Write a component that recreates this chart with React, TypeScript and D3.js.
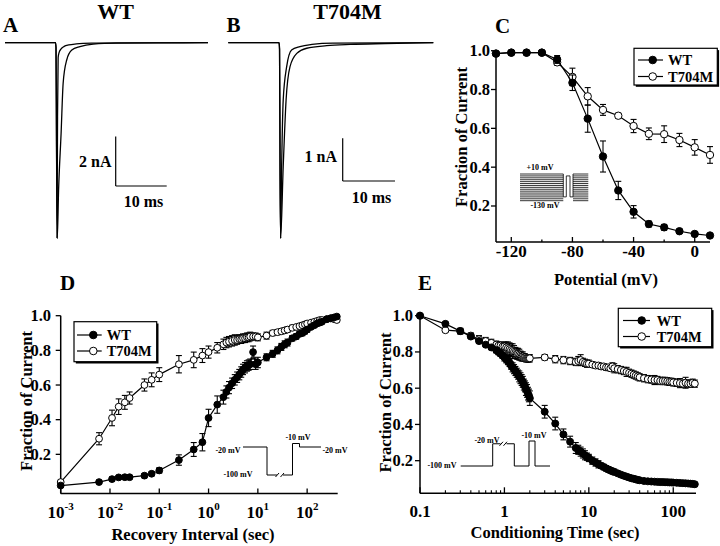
import React from "react";
import * as d3 from "d3";

const FONT = "'Liberation Serif', 'Times New Roman', serif";

// ---------- Panel A (WT traces): time (ms), current (nA)
const A_T_FAST = [0, 9.9, 10.0, 10.1, 10.2, 10.3, 10.42, 10.6, 11.0, 11.6, 12.5, 14, 17, 22, 39.8];
const A_I_FAST = [0, 0, -0.2, -4.0, -7.9, -3.0, -0.6, -0.4, -0.25, -0.15, -0.09, -0.05, -0.02, -0.01, 0];
const A_T_SLOW = [0, 9.9, 10.0, 10.1, 10.25, 10.5, 11.0, 11.4, 12.1, 13.1, 14.7, 17.3, 22, 30, 39.8];
const A_I_SLOW = [0, 0, -0.2, -4.0, -7.9, -6.0, -3.66, -1.64, -0.7, -0.3, -0.16, -0.06, -0.02, -0.01, 0];

// ---------- Panel B (T704M traces)
const B_T_FAST = [0, 9.7, 9.8, 9.9, 10.0, 10.2, 10.5, 11.16, 12.1, 13.7, 16, 20, 39.2];
const B_I_FAST = [0, 0, -0.15, -3.0, -4.58, -2.9, -1.34, -0.56, -0.17, -0.09, -0.04, -0.01, 0];
const B_T_SLOW = [0, 9.7, 9.8, 9.9, 10.0, 10.5, 11.05, 11.8, 13.1, 15, 18.8, 23.3, 30, 39.2];
const B_I_SLOW = [0, 0, -0.15, -3.0, -4.58, -2.9, -1.34, -0.56, -0.25, -0.13, -0.07, -0.04, -0.02, 0];

// ---------- Panel C (steady-state inactivation)
const C_POT = [-130, -120, -110, -100, -90, -80, -70, -60, -50, -40, -30, -20, -10, 0, 10];
const C_WT = [0.985, 0.99, 0.99, 0.99, 0.955, 0.835, 0.65, 0.455, 0.28, 0.17, 0.107, 0.09, 0.07, 0.056, 0.048];
const C_WT_ERR = [0.005, 0.005, 0.005, 0.005, 0.02, 0.04, 0.07, 0.08, 0.047, 0.032, 0.015, 0.015, 0.01, 0.01, 0.008];
const C_MUT = [0.985, 0.99, 0.99, 0.99, 0.94, 0.865, 0.765, 0.695, 0.665, 0.612, 0.572, 0.57, 0.54, 0.502, 0.463];
const C_MUT_ERR = [0.005, 0.005, 0.005, 0.005, 0.015, 0.045, 0.045, 0.028, 0.013, 0.034, 0.03, 0.043, 0.034, 0.04, 0.043];
const C_XTICKS = [-120, -80, -40, 0];
const C_XMINOR = [-100, -60, -20];
const C_PROTOCOL = [-130, -120, -110, -100, -90, -80, -70, -60, -50, -40, -30, -20, -10, 0, 10];

// ---------- Panel D (recovery from inactivation)
const D_T = [0.001, 0.006, 0.011, 0.015, 0.02, 0.025, 0.05, 0.07, 0.1, 0.25,
  0.5, 0.75, 1.0, 1.5, 2.0,
  2.3, 2.6, 3.0, 3.4, 3.8, 4.2, 4.6, 5.0, 5.5, 6.0,
  6.5, 7.0, 8.0, 9.0, 10,
  15, 20, 25, 30, 35, 40, 50, 60, 70, 80,
  90, 100, 120, 140, 160, 180, 200, 250, 300, 350,
  400];
const D_WT = [0.02, 0.04, 0.057, 0.067, 0.068, 0.068, 0.077, 0.088, 0.107, 0.167,
  0.228, 0.27, 0.41, 0.487, 0.53,
  0.56, 0.585, 0.61, 0.63, 0.645, 0.66, 0.675, 0.69, 0.7, 0.71,
  0.715, 0.72, 0.79, 0.72, 0.73,
  0.76, 0.78, 0.8, 0.82, 0.835, 0.845, 0.87, 0.88, 0.895, 0.9,
  0.91, 0.92, 0.935, 0.945, 0.955, 0.96, 0.965, 0.98, 0.985, 0.99,
  0.995];
const D_WT_ERR = [0.01, 0.01, 0.012, 0.01, 0.01, 0.01, 0.012, 0.012, 0.015, 0.03,
  0.04, 0.05, 0.05, 0.05, 0.04,
  0.035, 0.035, 0.03, 0.03, 0.03, 0.03, 0.03, 0.03, 0.03, 0.03,
  0.03, 0.03, 0.035, 0.03, 0.03,
  0.02, 0.02, 0.02, 0.02, 0.02, 0.02, 0.015, 0.015, 0.015, 0.015,
  0.015, 0.015, 0.01, 0.01, 0.01, 0.01, 0.01, 0.01, 0.01, 0.01,
  0.01];
const D_MUT = [0.04, 0.29, 0.41, 0.475, 0.5, 0.525, 0.6, 0.63, 0.66, 0.72,
  0.745, 0.77, 0.79, 0.815, 0.835,
  0.845, 0.85, 0.855, 0.86, 0.86, 0.865, 0.865, 0.87, 0.87, 0.875,
  0.875, 0.88, 0.88, 0.88, 0.875,
  0.885, 0.9, 0.905, 0.91, 0.915, 0.92, 0.93, 0.935, 0.94, 0.945,
  0.95, 0.955, 0.96, 0.965, 0.97, 0.975, 0.975, 0.98, 0.985, 0.98,
  0.975];
const D_MUT_ERR = [0.01, 0.035, 0.045, 0.045, 0.04, 0.035, 0.035, 0.04, 0.04, 0.05,
  0.045, 0.04, 0.035, 0.03, 0.03,
  0.03, 0.03, 0.03, 0.03, 0.025, 0.025, 0.025, 0.025, 0.025, 0.025,
  0.025, 0.025, 0.02, 0.02, 0.02,
  0.02, 0.015, 0.015, 0.015, 0.015, 0.015, 0.015, 0.012, 0.012, 0.012,
  0.012, 0.01, 0.01, 0.01, 0.01, 0.01, 0.01, 0.01, 0.01, 0.01,
  0.01];
const D_XTICKS = [-3, -2, -1, 0, 1, 2];

// ---------- Panel E (development of slow inactivation)
const E_T = [0.1, 0.2, 0.3, 0.4, 0.5, 0.6, 0.7, 0.8, 0.85, 0.9,
  0.95, 1.0, 1.05, 1.1, 1.15, 1.2, 1.25, 1.3, 1.35, 1.4,
  1.45, 1.5, 1.55, 1.6, 1.65, 1.7, 1.75, 1.8, 1.85, 1.9,
  1.95, 2.0, 3, 4, 5, 6, 7, 7.5, 8, 8.5,
  9, 9.5, 10, 11, 12, 13, 14, 15, 16, 17,
  18, 19, 20, 22, 24, 26, 28, 30, 32, 34,
  36, 38, 40, 45, 50, 55, 60, 65, 70, 75,
  80, 85, 90, 95, 100, 110, 120, 130, 140, 150,
  160, 170, 180];
const E_WT = [1.0, 0.955, 0.915, 0.885, 0.86, 0.84, 0.825, 0.81, 0.8, 0.79,
  0.78, 0.77, 0.76, 0.75, 0.74, 0.725, 0.715, 0.705, 0.695, 0.685,
  0.675, 0.665, 0.655, 0.645, 0.635, 0.62, 0.61, 0.595, 0.585, 0.57,
  0.56, 0.545, 0.47, 0.405, 0.345, 0.305, 0.27, 0.26, 0.25, 0.24,
  0.23, 0.222, 0.215, 0.2, 0.19, 0.18, 0.172, 0.165, 0.158, 0.152,
  0.147, 0.142, 0.138, 0.13, 0.123, 0.117, 0.112, 0.107, 0.103, 0.1,
  0.097, 0.094, 0.092, 0.088, 0.086, 0.085, 0.084, 0.083, 0.082, 0.082,
  0.081, 0.081, 0.08, 0.08, 0.079, 0.078, 0.077, 0.076, 0.075, 0.074,
  0.073, 0.072, 0.07];
const E_WT_ERR = [0, 0.01, 0.015, 0.01, 0.01, 0.01, 0.01, 0.015, 0.015, 0.015,
  0.015, 0.02, 0.02, 0.02, 0.02, 0.02, 0.025, 0.025, 0.025, 0.025,
  0.025, 0.03, 0.03, 0.03, 0.03, 0.03, 0.03, 0.035, 0.035, 0.035,
  0.035, 0.04, 0.035, 0.035, 0.03, 0.03, 0.03, 0.025, 0.025, 0.025,
  0.025, 0.02, 0.02, 0.02, 0.02, 0.02, 0.015, 0.015, 0.015, 0.015,
  0.015, 0.015, 0.015, 0.012, 0.012, 0.012, 0.012, 0.01, 0.01, 0.01,
  0.01, 0.01, 0.01, 0.01, 0.01, 0.01, 0.01, 0.01, 0.01, 0.01,
  0.01, 0.01, 0.01, 0.01, 0.01, 0.01, 0.01, 0.01, 0.01, 0.01,
  0.01, 0.01, 0.01];
const E_MUT = [1.0, 0.92, 0.915, 0.89, 0.87, 0.86, 0.85, 0.84, 0.835, 0.835,
  0.83, 0.83, 0.825, 0.82, 0.815, 0.81, 0.805, 0.8, 0.795, 0.79,
  0.79, 0.785, 0.78, 0.775, 0.775, 0.77, 0.77, 0.765, 0.765, 0.765,
  0.765, 0.765, 0.77, 0.76, 0.755, 0.75, 0.745, 0.75, 0.755, 0.745,
  0.74, 0.735, 0.735, 0.73, 0.725, 0.725, 0.72, 0.72, 0.715, 0.715,
  0.71, 0.72, 0.71, 0.705, 0.7, 0.695, 0.69, 0.685, 0.68, 0.675,
  0.67, 0.665, 0.66, 0.655, 0.65, 0.648, 0.645, 0.645, 0.64, 0.64,
  0.64, 0.638, 0.635, 0.635, 0.632, 0.63, 0.628, 0.625, 0.63, 0.625,
  0.625, 0.63, 0.625];
const E_MUT_ERR = [0, 0.01, 0.015, 0.015, 0.02, 0.02, 0.02, 0.02, 0.02, 0.02,
  0.02, 0.025, 0.03, 0.035, 0.035, 0.035, 0.04, 0.035, 0.03, 0.03,
  0.03, 0.03, 0.025, 0.025, 0.025, 0.02, 0.02, 0.02, 0.02, 0.02,
  0.02, 0.02, 0.015, 0.02, 0.02, 0.02, 0.02, 0.025, 0.03, 0.02,
  0.02, 0.02, 0.02, 0.015, 0.015, 0.015, 0.015, 0.015, 0.015, 0.015,
  0.015, 0.02, 0.025, 0.02, 0.02, 0.02, 0.025, 0.02, 0.02, 0.02,
  0.02, 0.02, 0.02, 0.02, 0.02, 0.02, 0.025, 0.02, 0.02, 0.02,
  0.02, 0.02, 0.02, 0.02, 0.02, 0.02, 0.025, 0.02, 0.03, 0.02,
  0.02, 0.02, 0.02];
const E_XMAJOR = [0.1, 1, 10, 100];
const E_XMINOR = [0.2, 0.3, 0.4, 0.5, 0.6, 0.7, 0.8, 0.9, 2, 3, 4, 5, 6, 7, 8, 9, 20, 30, 40, 50, 60, 70, 80, 90];

const Y_TICKS = [0.2, 0.4, 0.6, 0.8, 1.0];
const SERIES_NAMES = ["WT", "T704M"];

type Scale = (v: number) => number;

function Trace({ t, i, sx, sy }: { t: number[]; i: number[]; sx: Scale; sy: Scale }) {
  const line = d3
    .line<number>()
    .x((_, k) => sx(t[k]))
    .y((v) => sy(v))
    .curve(d3.curveMonotoneX);
  return <path d={line(i) || ""} fill="none" stroke="#000" strokeWidth={1.3} />;
}

function Series({ xs, ys, errs, sx, sy, filled, r = 3.6 }: {
  xs: number[]; ys: number[]; errs: number[]; sx: Scale; sy: Scale; filled: boolean; r?: number;
}) {
  const line = d3.line<number>().x((_, k) => sx(xs[k])).y((v) => sy(v));
  return (
    <g>
      <path d={line(ys) || ""} fill="none" stroke="#000" strokeWidth={1.2} />
      {ys.map((v, k) => {
        const e = errs[k];
        if (!e) return null;
        const x = sx(xs[k]);
        const y1 = sy(v - e);
        const y2 = sy(v + e);
        return (
          <g key={"e" + k} stroke="#000" strokeWidth={1.1}>
            <line x1={x} x2={x} y1={y1} y2={y2} />
            <line x1={x - 3} x2={x + 3} y1={y1} y2={y1} />
            <line x1={x - 3} x2={x + 3} y1={y2} y2={y2} />
          </g>
        );
      })}
      {ys.map((v, k) => (
        <circle key={"c" + k} cx={sx(xs[k])} cy={sy(v)} r={r}
          fill={filled ? "#000" : "#fff"} stroke="#000" strokeWidth={1} />
      ))}
    </g>
  );
}

function YAxis({ sy, x, labelX }: { sy: any; x: number; labelX: number }) {
  const [d0, d1] = sy.domain();
  return (
    <g>
      <line x1={x} x2={x} y1={sy(d0)} y2={sy(d1)} stroke="#000" strokeWidth={1.5} />
      {Y_TICKS.map((v) => (
        <g key={v}>
          <line x1={x - 5} x2={x} y1={sy(v)} y2={sy(v)} stroke="#000" strokeWidth={1.3} />
          <text x={labelX} y={sy(v) + 5.5} textAnchor="end" fontSize={16.5} fontWeight="bold" fontFamily={FONT}>
            {d3.format(".1f")(v)}
          </text>
        </g>
      ))}
    </g>
  );
}

function Legend({ x, y, w, h, rowY, lineX1, lineX2, markX, textX }: {
  x: number; y: number; w: number; h: number; rowY: number[]; lineX1: number; lineX2: number; markX: number; textX: number;
}) {
  return (
    <g>
      <rect x={x + 1.8} y={y + 1.8} width={w} height={h} fill="#000" />
      <rect x={x} y={y} width={w} height={h} fill="#fff" stroke="#000" strokeWidth={1.2} />
      {SERIES_NAMES.map((name, k) => (
        <g key={name}>
          <line x1={lineX1} x2={lineX2} y1={rowY[k]} y2={rowY[k]} stroke="#000" strokeWidth={1.2} />
          <circle cx={markX} cy={rowY[k]} r={3.8} fill={k === 0 ? "#000" : "#fff"} stroke="#000" strokeWidth={1} />
          <text x={textX} y={rowY[k] + 5} fontSize={14.5} fontWeight="bold" fontFamily={FONT}>{name}</text>
        </g>
      ))}
    </g>
  );
}

function Label({ x, y, children, size = 16.5, anchor = "start", rotate = false }: any) {
  return (
    <text x={x} y={y} fontSize={size} fontWeight="bold" fontFamily={FONT} textAnchor={anchor}
      transform={rotate ? `rotate(-90 ${x} ${y})` : undefined}>
      {children}
    </text>
  );
}

export default function App() {
  // Panel A scales
  const ax = d3.scaleLinear().domain([0, 39.8]).range([5, 208]);
  const ay = d3.scaleLinear().domain([0, -7.9]).range([42.7, 238]);
  // Panel B scales
  const bx = d3.scaleLinear().domain([0, 39.2]).range([228.3, 433.3]);
  const by = d3.scaleLinear().domain([0, -4.58]).range([42.7, 238.3]);

  // Panel C
  const cx = d3.scaleLinear().domain([-130, 10]).range([496, 710]);
  const cy = d3.scaleLinear().domain([0.0145, 1]).range([242, 50.7]);
  const cv = d3.scaleLinear().domain([-130, 10]).range([200.7, 174]);

  // Panel D
  const dx = d3.scaleLog().domain([0.001, Math.pow(10, 2.62)]).range([60.7, 337.7]);
  const dy = d3.scaleLinear().domain([-0.026, 1]).range([493.5, 315.7]);
  const dv = d3.scaleLinear().domain([-100, -10]).range([475, 443.5]);

  // Panel E
  const ex = d3.scaleLog().domain([0.1, 186]).range([420, 696]);
  const ey = d3.scaleLinear().domain([0.02, 1]).range([493.3, 315.7]);
  const ev = d3.scaleLinear().domain([-100, -10]).range([466, 441]);

  const cBottom = cy(0.0145);
  const dBottom = dy(-0.026);
  const eBottom = ey(0.02);

  // scale bars
  const aBarX = 115.7, aBarY = 186;
  const bBarX = 342.7, bBarY = 181;

  return (
    <div style={{ position: "absolute", left: 0, top: 0 }}>
      <svg width={720} height={546} viewBox="0 0 720 546" style={{ display: "block", background: "#fff" }}>
        <rect x={0} y={0} width={720} height={546} fill="#fff" />

        {/* ---------- Panel A ---------- */}
        <Label x={3} y={32} size={21}>A</Label>
        <Label x={115.5} y={19} size={22} anchor="middle">WT</Label>
        <Trace t={A_T_SLOW} i={A_I_SLOW} sx={ax} sy={ay} />
        <Trace t={A_T_FAST} i={A_I_FAST} sx={ax} sy={ay} />
        <g stroke="#000" strokeWidth={1.2}>
          <line x1={aBarX} x2={aBarX} y1={aBarY} y2={aBarY - (ay(-2) - ay(0))} />
          <line x1={aBarX} x2={aBarX + (ax(10) - ax(0))} y1={aBarY} y2={aBarY} />
        </g>
        <Label x={111.5} y={167} size={16} anchor="end">2 nA</Label>
        <Label x={143.5} y={206.5} size={16} anchor="middle">10 ms</Label>

        {/* ---------- Panel B ---------- */}
        <Label x={226.5} y={32} size={21}>B</Label>
        <Label x={347.5} y={19} size={22} anchor="middle">T704M</Label>
        <Trace t={B_T_SLOW} i={B_I_SLOW} sx={bx} sy={by} />
        <Trace t={B_T_FAST} i={B_I_FAST} sx={bx} sy={by} />
        <g stroke="#000" strokeWidth={1.2}>
          <line x1={bBarX} x2={bBarX} y1={bBarY} y2={bBarY - (by(-1) - by(0))} />
          <line x1={bBarX} x2={bBarX + (bx(10) - bx(0))} y1={bBarY} y2={bBarY} />
        </g>
        <Label x={337} y={162} size={16} anchor="end">1 nA</Label>
        <Label x={371.5} y={202.5} size={16} anchor="middle">10 ms</Label>

        {/* ---------- Panel C ---------- */}
        <Label x={495} y={33} size={21}>C</Label>
        <YAxis sy={cy} x={cx(-130)} labelX={490} />
        <line x1={cx(-130)} x2={cx(10)} y1={cBottom} y2={cBottom} stroke="#000" strokeWidth={1.5} />
        {C_XTICKS.map((v) => (
          <g key={v}>
            <line x1={cx(v)} x2={cx(v)} y1={cBottom} y2={cBottom - 5} stroke="#000" strokeWidth={1.3} />
            <Label x={cx(v)} y={257} size={17} anchor="middle">{v}</Label>
          </g>
        ))}
        {C_XMINOR.map((v) => (
          <line key={v} x1={cx(v)} x2={cx(v)} y1={cBottom} y2={cBottom - 2.5} stroke="#000" strokeWidth={1.3} />
        ))}
        <Label x={606} y={285} size={16.5} anchor="middle">Potential (mV)</Label>
        <Label x={467} y={137} rotate anchor="middle">Fraction of Current</Label>
        {/* protocol inset */}
        <g stroke="#000" strokeWidth={0.8} fill="none">
          {C_PROTOCOL.map((v) => (
            <g key={v}>
              <line x1={520} x2={563.3} y1={cv(v)} y2={cv(v)} />
              <line x1={573} x2={588.3} y1={cv(v)} y2={cv(v)} />
            </g>
          ))}
          <path d={`M563.3,${cv(10)} L563.3,${cv(-110)} L566.3,${cv(-110)} L566.3,${cv(0)} L570,${cv(0)} L570,${cv(-110)} L573,${cv(-110)} L573,${cv(10)}`} />
        </g>
        <Label x={540} y={170} size={8} anchor="middle">+10 mV</Label>
        <Label x={545} y={208} size={8} anchor="middle">-130 mV</Label>
        <Series xs={C_POT} ys={C_MUT} errs={C_MUT_ERR} sx={cx} sy={cy} filled={false} r={3.7} />
        <Series xs={C_POT} ys={C_WT} errs={C_WT_ERR} sx={cx} sy={cy} filled={true} r={3.7} />
        <Legend x={634} y={48.3} w={83.3} h={36.7} rowY={[60, 76.5]} lineX1={638} lineX2={663} markX={652.7} textX={668} />

        {/* ---------- Panel D ---------- */}
        <Label x={60} y={290} size={21}>D</Label>
        <YAxis sy={dy} x={dx(0.001)} labelX={51} />
        <line x1={dx(0.001)} x2={dx(Math.pow(10, 2.62))} y1={dBottom} y2={dBottom} stroke="#000" strokeWidth={1.5} />
        {D_XTICKS.map((k) => (
          <g key={k}>
            <line x1={dx(Math.pow(10, k))} x2={dx(Math.pow(10, k))} y1={dBottom} y2={dBottom - 5} stroke="#000" strokeWidth={1.3} />
            <text x={dx(Math.pow(10, k))} y={518} textAnchor="middle" fontWeight="bold" fontFamily={FONT} fontSize={17}>
              <tspan>10</tspan>
              <tspan dy={-8} fontSize={11}>{k}</tspan>
            </text>
          </g>
        ))}
        <Label x={193} y={540} size={16.5} anchor="middle">Recovery Interval (sec)</Label>
        <Label x={32} y={401} rotate anchor="middle">Fraction of Current</Label>
        {/* protocol inset */}
        <g stroke="#000" strokeWidth={1} fill="none">
          <path d={`M243,${dv(-20)} L267,${dv(-20)} L267,${dv(-100)} L277,${dv(-100)}`} />
          <path d={`M283,${dv(-100)} L292.5,${dv(-100)} L292.5,${dv(-10)} L299.5,${dv(-10)} L299.5,${dv(-20)} L321,${dv(-20)}`} />
          <line x1={275.5} x2={279} y1={dv(-100) + 2} y2={dv(-100) - 2} />
          <line x1={280.5} x2={284} y1={dv(-100) + 2} y2={dv(-100) - 2} />
        </g>
        <Label x={228} y={453} size={8} anchor="middle">-20 mV</Label>
        <Label x={238} y={477} size={8} anchor="middle">-100 mV</Label>
        <Label x={298} y={440} size={8} anchor="middle">-10 mV</Label>
        <Label x={335} y={453} size={8} anchor="middle">-20 mV</Label>
        <Series xs={D_T} ys={D_MUT} errs={D_MUT_ERR} sx={dx} sy={dy} filled={false} r={3.4} />
        <Series xs={D_T} ys={D_WT} errs={D_WT_ERR} sx={dx} sy={dy} filled={true} r={3.4} />
        <Legend x={74} y={321.7} w={82.7} h={40} rowY={[335, 351]} lineX1={77} lineX2={101.7} markX={93.3} textX={106.7} />

        {/* ---------- Panel E ---------- */}
        <Label x={418} y={290} size={21}>E</Label>
        <YAxis sy={ey} x={ex(0.1)} labelX={413} />
        <line x1={ex(0.1)} x2={ex(186)} y1={eBottom} y2={eBottom} stroke="#000" strokeWidth={1.5} />
        {E_XMAJOR.map((v) => (
          <g key={v}>
            <line x1={ex(v)} x2={ex(v)} y1={eBottom} y2={eBottom - 6} stroke="#000" strokeWidth={1.3} />
            <Label x={ex(v)} y={516.5} size={17} anchor="middle">{String(v)}</Label>
          </g>
        ))}
        {E_XMINOR.map((v) => (
          <line key={v} x1={ex(v)} x2={ex(v)} y1={eBottom} y2={eBottom - 3} stroke="#000" strokeWidth={1.1} />
        ))}
        <Label x={555} y={538} size={16.5} anchor="middle">Conditioning Time (sec)</Label>
        <Label x={391} y={402.5} rotate anchor="middle">Fraction of Current</Label>
        {/* protocol inset */}
        <g stroke="#000" strokeWidth={1} fill="none">
          <path d={`M460.7,${ev(-100)} L492.7,${ev(-100)} L492.7,${ev(-20)} L500.5,${ev(-20)}`} />
          <path d={`M506.5,${ev(-20)} L514.3,${ev(-20)} L514.3,${ev(-100)} L529,${ev(-100)} L529,${ev(-10)} L535,${ev(-10)} L535,${ev(-100)} L550,${ev(-100)}`} />
          <line x1={499.5} x2={503} y1={ev(-20) + 2} y2={ev(-20) - 2} />
          <line x1={503.5} x2={507} y1={ev(-20) + 2} y2={ev(-20) - 2} />
        </g>
        <Label x={442} y={468} size={8} anchor="middle">-100 mV</Label>
        <Label x={487} y={442.5} size={8} anchor="middle">-20 mV</Label>
        <Label x={534} y={437.5} size={8} anchor="middle">-10 mV</Label>
        <Series xs={E_T} ys={E_MUT} errs={E_MUT_ERR} sx={ex} sy={ey} filled={false} r={3.5} />
        <Series xs={E_T} ys={E_WT} errs={E_WT_ERR} sx={ex} sy={ey} filled={true} r={3.5} />
        <Legend x={618.3} y={308.3} w={93.4} h={38.4} rowY={[320.5, 336.5]} lineX1={623} lineX2={650} markX={641.7} textX={656.7} />
      </svg>
    </div>
  );
}
